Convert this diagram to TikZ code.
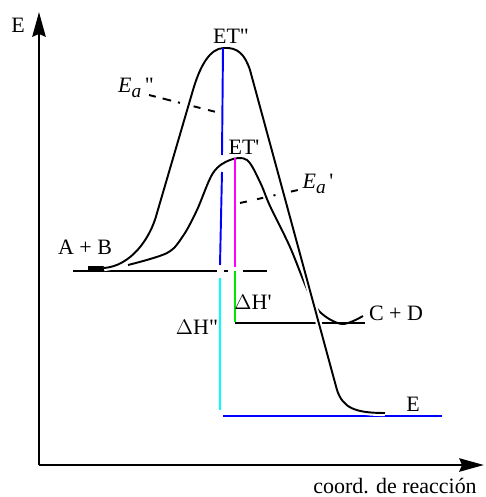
\documentclass[tikz,border=0pt]{standalone}
\usepackage{fontspec}
\setmainfont{Liberation Serif}
\usepackage{tikz}
\usetikzlibrary{arrows.meta}
\definecolor{myblue}{RGB}{0,0,255}
\definecolor{mycyan}{RGB}{0,255,255}
\definecolor{mymagenta}{RGB}{255,0,255}
\definecolor{mygreen}{RGB}{0,230,0}
\definecolor{mydark}{RGB}{0,0,0}
\newcommand{\ea}{\textit{E}\raisebox{-0.45ex}{\fontsize{11}{12}\selectfont\textit{a}}}
\tikzset{
  axis/.style={line width=1.7pt, color=mydark},
  axtip/.style={-{Stealth[length=14pt,width=7.5pt,inset=1.5pt]}},
  curve/.style={line width=1.1pt, color=mydark},
  bigcurve/.style={curve, preaction={draw=white, line width=3.5pt}},
  level/.style={line width=1.1pt, color=mydark},
  vline/.style={line width=1.1pt},
  ealine/.style={line width=1.1pt, color=mydark},
  lbl/.style={font=\fontsize{12.5}{14}\selectfont, inner sep=0pt}
}
\begin{document}
\begin{tikzpicture}[x=0.02cm, y=-0.02cm]
  \useasboundingbox (0,0) rectangle (485,497);

  % axes
  \coordinate (O) at (39,465);
  \coordinate (ytip) at (39,12);
  \coordinate (xtip) at (484,465);
  \draw[axis, axtip] (O) -- (ytip);
  \draw[axis, axtip] (O) -- (xtip);
  \node[lbl] (elabel) at (18,25) {E};
  \node[lbl, anchor=base] (xlabel) at (395,493) {coord. de reacción};

  % energy levels
  \draw[level] (73,271) -- (217,271);
  \draw[level] (224,271) -- (228,271);
  \draw[level] (243,271) -- (267,271);
  \draw[level] (235,323) -- (365,323);
  \draw[vline, myblue] (223,416) -- (442,416);

  % path through ET'
  \draw[curve] plot[smooth, tension=0.55] coordinates {
    (128,265) (167,253) (183,236) (197,210) (213,173) (230,160) (247,160)
    (260,182) (270,206) (290,247) (307,289) (320,312) (342,324) (363,316)};

  % activation energies
  \draw[ealine, dash pattern=on 4pt off 4pt on 5pt off 4pt on 1.2pt off 8pt on 4pt off 4.5pt on 4pt]
    (149,95) -- (216,112);
  \draw[ealine, dash pattern=on 4pt off 6pt on 3.5pt off 6pt on 1.2pt off 9pt on 4pt]
    (240,203) -- (298,190);
  \node[lbl] (eadd) at (136,88) {\ea\,\textquotedbl};
  \node[lbl] (ead) at (318,184) {\ea\,\textquotesingle};

  % path through ET''
  \draw[curve, line width=2.2pt] (88,268) -- (106,268);
  \draw[bigcurve] (104,268) .. controls (130,266) and (150,240) .. (157,213)
    -- (193,90) .. controls (200,66) and (210,48) .. (224,48)
    .. controls (238,47) and (245,55) .. (250,70)
    -- (337,390) .. controls (343,408) and (355,413) .. (385,413);

  % vertical bars
  \draw[vline, myblue] (223,48) -- (222,155);
  \draw[vline, myblue] (222,172) -- (220,265);
  \draw[vline, mycyan] (220,278) -- (220,410);
  \draw[vline, mymagenta] (235,158) -- (235,267);
  \draw[vline, mygreen] (235,271) -- (235,322);

  % labels
  \node[lbl] (ett) at (231,36) {ET\textquotedbl};
  \node[lbl] (et) at (244,147) {ET\textquotesingle};
  \node[lbl] (ab) at (85,247) {A + B};
  \node[lbl] (cd) at (396,313) {C + D};
  \node[lbl] (prod) at (413,404) {E};
  \node[lbl] (dhh) at (197,327) {$\Delta$H\textquotedbl};
  \node[lbl] (dh) at (253,302) {$\Delta$H\textquotesingle};
\end{tikzpicture}
\end{document}
